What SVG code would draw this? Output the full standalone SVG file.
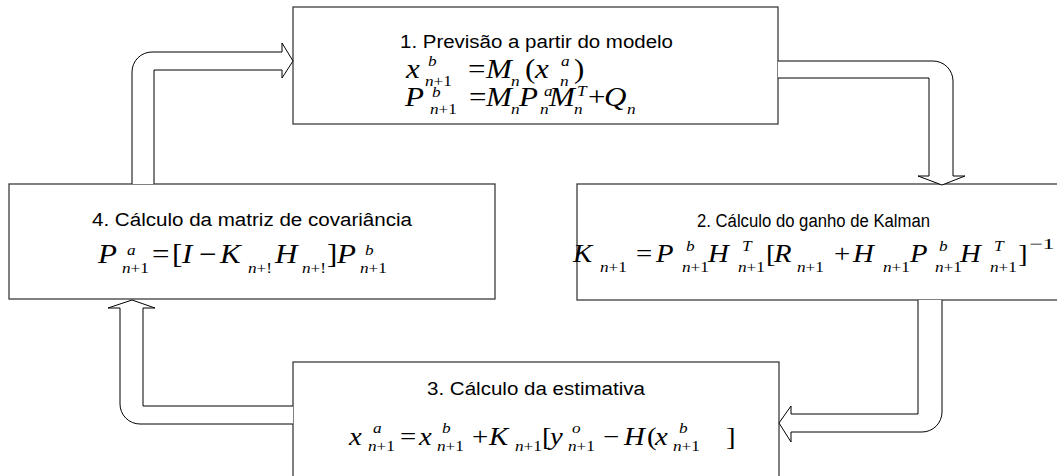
<svg xmlns="http://www.w3.org/2000/svg" width="1057" height="476" viewBox="0 0 1057 476">
<style>
.box{fill:#fff;stroke:#3c3c3c;stroke-width:1.3}
.arrow{fill:#fff;stroke:#000;stroke-width:1}
.t{font-family:"Liberation Sans",Arial,sans-serif;font-size:18px;fill:#000}
.m{font-family:"Liberation Serif","Times New Roman",serif;font-style:italic;font-size:27px;fill:#000}
.m2{font-size:25px}
.u{font-style:normal}
.s{font-size:15px}
</style>
<rect width="1057" height="476" fill="#fff"/>
<g id="node1">
<rect class="box" x="293" y="7" width="485" height="117"/>
<text class="t" x="400" y="48" textLength="273" lengthAdjust="spacingAndGlyphs">1. Previsão a partir do modelo</text>
<text class="m" transform="translate(406,78) scale(1.15,1)">x</text>
<text class="m s" transform="translate(428,66) scale(1.15,1)">b</text>
<text class="m s" transform="translate(425,86) scale(1.15,1)">n<tspan class="u">+1</tspan></text>
<text class="m u" transform="translate(468,78) scale(1.15,1)">=</text>
<text class="m" transform="translate(486,78) scale(1.15,1)">M</text>
<text class="m s" transform="translate(511,86) scale(1.15,1)">n</text>
<text class="m u" transform="translate(525,78) scale(1.15,1)">(</text>
<text class="m" transform="translate(535,78) scale(1.15,1)">x</text>
<text class="m s" transform="translate(561,66) scale(1.15,1)">a</text>
<text class="m s" transform="translate(560,86) scale(1.15,1)">n</text>
<text class="m u" transform="translate(574,78) scale(1.15,1)">)</text>
<text class="m" transform="translate(405,106) scale(1.15,1)">P</text>
<text class="m s" transform="translate(432,97) scale(1.15,1)">b</text>
<text class="m s" transform="translate(430,114) scale(1.15,1)">n<tspan class="u">+1</tspan></text>
<text class="m u" transform="translate(469,106) scale(1.15,1)">=</text>
<text class="m" transform="translate(486,106) scale(1.15,1)">M</text>
<text class="m s" transform="translate(511,114) scale(1.15,1)">n</text>
<text class="m" transform="translate(519,106) scale(1.15,1)">P</text>
<text class="m s" transform="translate(544,96) scale(1.15,1)">a</text>
<text class="m s" transform="translate(540,114) scale(1.15,1)">n</text>
<text class="m" transform="translate(549,106) scale(1.15,1)">M</text>
<text class="m s" transform="translate(577,96) scale(1.15,1)">T</text>
<text class="m s" transform="translate(574,114) scale(1.15,1)">n</text>
<text class="m u" transform="translate(588,106) scale(1.15,1)">+</text>
<text class="m" transform="translate(604,106) scale(1.15,1)">Q</text>
<text class="m s" transform="translate(627,114) scale(1.15,1)">n</text>
</g>
<g id="node2">
<rect class="box" x="577" y="184" width="486" height="116"/>
<text class="t" x="697" y="227" textLength="233" lengthAdjust="spacingAndGlyphs">2. Cálculo do ganho de Kalman</text>
<text class="m m2" transform="translate(573,262) scale(1.15,1)">K</text>
<text class="m s" transform="translate(600,272) scale(1.15,1)">n<tspan class="u">+1</tspan></text>
<text class="m m2 u" transform="translate(636,262) scale(1.15,1)">=</text>
<text class="m m2" transform="translate(656,262) scale(1.15,1)">P</text>
<text class="m s" transform="translate(686,251) scale(1.15,1)">b</text>
<text class="m s" transform="translate(682,272) scale(1.15,1)">n<tspan class="u">+1</tspan></text>
<text class="m m2" transform="translate(708,262) scale(1.15,1)">H</text>
<text class="m s" transform="translate(742,251) scale(1.15,1)">T</text>
<text class="m s" transform="translate(738,272) scale(1.15,1)">n<tspan class="u">+1</tspan></text>
<text class="m m2 u" transform="translate(766,262) scale(1.15,1)">[</text>
<text class="m m2" transform="translate(774,262) scale(1.15,1)">R</text>
<text class="m s" transform="translate(797,272) scale(1.15,1)">n<tspan class="u">+1</tspan></text>
<text class="m m2 u" transform="translate(834,262) scale(1.15,1)">+</text>
<text class="m m2" transform="translate(853,262) scale(1.15,1)">H</text>
<text class="m s" transform="translate(883,272) scale(1.15,1)">n<tspan class="u">+1</tspan></text>
<text class="m m2" transform="translate(910,262) scale(1.15,1)">P</text>
<text class="m s" transform="translate(939,251) scale(1.15,1)">b</text>
<text class="m s" transform="translate(935,272) scale(1.15,1)">n<tspan class="u">+1</tspan></text>
<text class="m m2" transform="translate(960,262) scale(1.15,1)">H</text>
<text class="m s" transform="translate(994,251) scale(1.15,1)">T</text>
<text class="m s" transform="translate(990,272) scale(1.15,1)">n<tspan class="u">+1</tspan></text>
<text class="m m2 u" transform="translate(1018,262) scale(1.15,1)">]</text>
<text class="m s u" transform="translate(1029,249) scale(1.6,1)">−1</text>
</g>
<g id="node3">
<rect class="box" x="293" y="362" width="486" height="117"/>
<text class="t" x="427" y="395" textLength="218" lengthAdjust="spacingAndGlyphs">3. Cálculo da estimativa</text>
<text class="m m2" transform="translate(349,445) scale(1.15,1)">x</text>
<text class="m s" transform="translate(373,433) scale(1.15,1)">a</text>
<text class="m s" transform="translate(368,451) scale(1.15,1)">n<tspan class="u">+1</tspan></text>
<text class="m m2 u" transform="translate(400,445) scale(1.15,1)">=</text>
<text class="m m2" transform="translate(419,445) scale(1.15,1)">x</text>
<text class="m s" transform="translate(442,433) scale(1.15,1)">b</text>
<text class="m s" transform="translate(437,451) scale(1.15,1)">n<tspan class="u">+1</tspan></text>
<text class="m m2 u" transform="translate(472,445) scale(1.15,1)">+</text>
<text class="m m2" transform="translate(489,445) scale(1.15,1)">K</text>
<text class="m s" transform="translate(515,451) scale(1.15,1)">n<tspan class="u">+1</tspan></text>
<text class="m m2 u" transform="translate(542,445) scale(1.15,1)">[</text>
<text class="m m2" transform="translate(550,445) scale(1.15,1)">y</text>
<text class="m s" transform="translate(572,433) scale(1.15,1)">o</text>
<text class="m s" transform="translate(568,451) scale(1.15,1)">n<tspan class="u">+1</tspan></text>
<text class="m m2 u" transform="translate(603,445) scale(1.15,1)">−</text>
<text class="m m2" transform="translate(624,445) scale(1.15,1)">H</text>
<text class="m m2 u" transform="translate(647,445) scale(1.15,1)">(</text>
<text class="m m2" transform="translate(655,445) scale(1.15,1)">x</text>
<text class="m s" transform="translate(679,433) scale(1.15,1)">b</text>
<text class="m s" transform="translate(673,451) scale(1.15,1)">n<tspan class="u">+1</tspan></text>
<text class="m m2 u" transform="translate(726,445) scale(1.15,1)">]</text>
</g>
<g id="node4">
<rect class="box" x="9" y="184" width="486" height="115"/>
<text class="t" x="92" y="226" textLength="320" lengthAdjust="spacingAndGlyphs">4. Cálculo da matriz de covariância</text>
<text class="m" transform="translate(98,263) scale(1.15,1)">P</text>
<text class="m s" transform="translate(127,255) scale(1.15,1)">a</text>
<text class="m s" transform="translate(122,273) scale(1.15,1)">n<tspan class="u">+1</tspan></text>
<text class="m u" transform="translate(152,263) scale(1.15,1)">=</text>
<text class="m u" transform="translate(172,263) scale(1.15,1)">[</text>
<text class="m" transform="translate(182,263) scale(1.15,1)">I</text>
<text class="m u" transform="translate(199,263) scale(1.15,1)">−</text>
<text class="m" transform="translate(220,263) scale(1.15,1)">K</text>
<text class="m s" transform="translate(248,273) scale(1.15,1)">n<tspan class="u">+!</tspan></text>
<text class="m" transform="translate(275,263) scale(1.15,1)">H</text>
<text class="m s" transform="translate(302,273) scale(1.15,1)">n<tspan class="u">+!</tspan></text>
<text class="m u" transform="translate(327,263) scale(1.15,1)">]</text>
<text class="m" transform="translate(337,263) scale(1.15,1)">P</text>
<text class="m s" transform="translate(365,255) scale(1.15,1)">b</text>
<text class="m s" transform="translate(360,273) scale(1.15,1)">n<tspan class="u">+1</tspan></text>
</g>
<g id="connectors">
<path class="arrow" d="M132,184 V72 A20,20 0 0 1 152,52 H282 V43 L293,61 L282,78 V70 H154 V184"/>
<path class="arrow" d="M778,61 H933 A20,20 0 0 1 953,81 V176 H965 L942,185 L918,176 H929 V78 H778"/>
<path class="arrow" d="M942,300 V412 A20,20 0 0 1 922,432 H791 V442 L779,423 L791,406 V414 H918 V300"/>
<path class="arrow" d="M293,424 H140 A20,20 0 0 1 120,404 V308 H108 L132,300 L155,308 H143 V406 H293"/>
</g>
</svg>
